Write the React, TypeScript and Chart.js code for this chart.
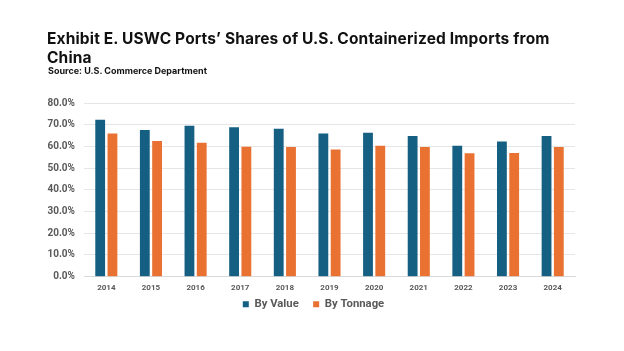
import React, { useEffect, useRef } from "react";
import { Chart, registerables } from "chart.js";

Chart.register(...registerables);

const years = ["2014", "2015", "2016", "2017", "2018", "2019", "2020", "2021", "2022", "2023", "2024"];
const byValue = [72.3, 67.6, 69.5, 68.8, 68.1, 65.9, 66.3, 64.8, 60.3, 62.3, 64.8];
const byTonnage = [66.0, 62.5, 61.7, 59.8, 59.7, 58.6, 60.3, 59.7, 56.9, 57.0, 59.7];
const seriesNames = ["By Value", "By Tonnage"];
const titleText = "Exhibit E. USWC Ports\u2019 Shares of U.S. Containerized Imports from China";
const sourceText = "Source: U.S. Commerce Department";

const BLUE = "#156082";
const ORANGE = "#E97132";
const GREY = "#595959";
const FONT = "Roboto, 'Liberation Sans', sans-serif";
const TITLE_FONT = "Inter, Roboto, sans-serif";

export default function App() {
  const ref = useRef<HTMLCanvasElement | null>(null);

  useEffect(() => {
    document.body.style.margin = "0";
    const ctx = ref.current!.getContext("2d")!;
    const chart = new Chart(ctx, {
      type: "bar",
      data: {
        labels: years,
        datasets: [
          { label: seriesNames[0], data: byValue, backgroundColor: BLUE, categoryPercentage: 0.55, barPercentage: 0.8 },
          { label: seriesNames[1], data: byTonnage, backgroundColor: ORANGE, categoryPercentage: 0.55, barPercentage: 0.8 },
        ],
      },
      options: {
        responsive: false,
        animation: false,
        layout: { padding: { left: 40, right: 37, top: 103, bottom: 31 } },
        plugins: {
          legend: {
            position: "bottom",
            labels: {
              boxWidth: 6,
              boxHeight: 6,
              padding: 6,
              color: GREY,
              font: { family: FONT, size: 11.3, weight: "bold" },
              generateLabels: (c: any) => {
                const items = Chart.defaults.plugins.legend.labels.generateLabels(c);
                return items.map((it: any, i: number) => ({
                  ...it,
                  text: i < items.length - 1 ? it.text + "\u00a0\u00a0\u00a0" : it.text,
                }));
              },
            },
          },
          tooltip: { enabled: false },
        },
        scales: {
          x: {
            grid: { display: false, drawTicks: false },
            border: { display: true, color: "#d9d9d9" },
            ticks: { color: GREY, padding: 6, font: { family: FONT, size: 8, weight: "bold" } },
            afterFit: (s: any) => { s.height = 16; },
          },
          y: {
            min: 0,
            max: 80,
            grid: { color: "#e6e6e6", drawTicks: false },
            border: { display: false },
            ticks: {
              stepSize: 10,
              padding: 9,
              color: GREY,
              font: { family: FONT, size: 10, weight: "bold" },
              callback: (v: any) => Number(v).toFixed(1) + "%",
            },
            afterFit: (s: any) => { s.width = 44; },
          },
          y2: {
            type: "linear",
            position: "right",
            grid: { display: false, drawTicks: false },
            border: { display: false },
            ticks: { display: false },
            afterFit: (s: any) => { s.width = 12; },
          },
        },
      },
    });
    return () => chart.destroy();
  }, []);

  return (
    <div style={{ position: "fixed", left: 0, top: 0, width: 624, height: 351, background: "#fff", overflow: "hidden" }}>
      <canvas ref={ref} width={624} height={351} style={{ position: "absolute", left: 0, top: 0 }} />
      <div style={{ position: "absolute", left: 47, top: 28.5, width: 522, fontFamily: TITLE_FONT, fontWeight: 700, fontSize: 15.5, lineHeight: "19px", letterSpacing: "0.15px", color: "#111" }}>
        {titleText}
      </div>
      <div style={{ position: "absolute", left: 48, top: 65, fontFamily: TITLE_FONT, fontWeight: 700, fontSize: 9, lineHeight: "11px", color: "#111" }}>
        {sourceText}
      </div>
    </div>
  );
}
